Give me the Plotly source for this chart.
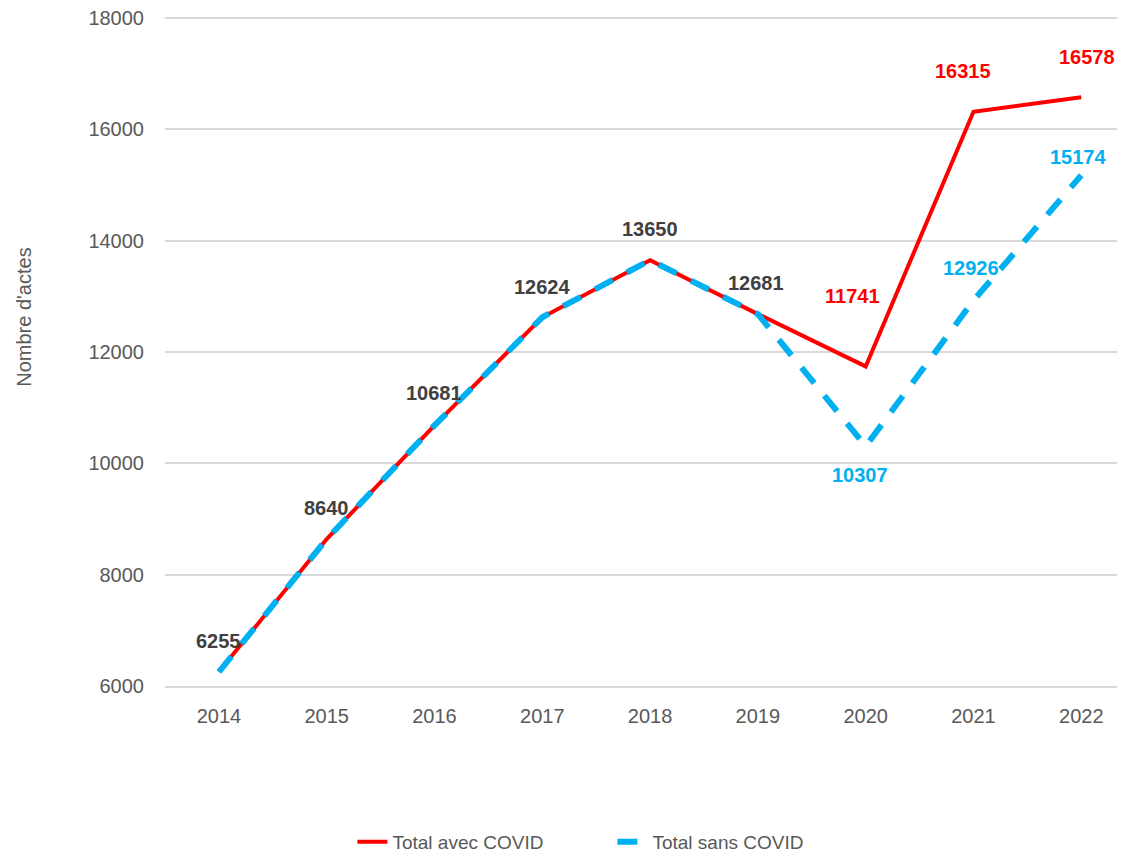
import plotly.graph_objects as go

years = ["2014", "2015", "2016", "2017", "2018", "2019", "2020", "2021", "2022"]
avec_covid = [6255, 8640, 10681, 12624, 13650, 12681, 11741, 16315, 16578]
sans_covid = [6255, 8640, 10681, 12624, 13650, 12681, 10307, 12926, 15174]
y_ticks = [6000, 8000, 10000, 12000, 14000, 16000, 18000]

RED = "#FF0000"
BLUE = "#00B0F0"
DARK = "#404040"
GREY = "#595959"
FONT = "Liberation Sans Narrow, Arial Narrow, Liberation Sans, Arial, sans-serif"

fig = go.Figure()
fig.add_trace(go.Scatter(x=years, y=avec_covid, mode="lines", name="Total avec COVID",
                         line=dict(color=RED, width=4)))
fig.add_trace(go.Scatter(x=years, y=sans_covid, mode="lines", name="Total sans COVID",
                         line=dict(color=BLUE, width=6, dash="20px,16px")))

# label offsets (pixels): shared labels, then red-only and blue-only
shared_shift = [(0, 31), (0, 31), (0, 32), (0, 30), (0, 31), (-2, 31)]
red_shift = [(-13, 70), (-10, 41), (6, 40)]
blue_shift = [(-6, -29), (-2, 32), (-3, 18)]

LBL = dict(family=FONT, size=20, weight="bold")
annotations = []
n_shared = len(shared_shift)
for i in range(n_shared):
    dx, dy = shared_shift[i]
    annotations.append(dict(x=i, y=avec_covid[i], xref="x", yref="y", text=str(avec_covid[i]),
                            showarrow=False, xshift=dx, yshift=dy,
                            font=dict(LBL, color=DARK)))
for j, i in enumerate(range(n_shared, len(years))):
    dx, dy = red_shift[j]
    annotations.append(dict(x=i, y=avec_covid[i], xref="x", yref="y", text=str(avec_covid[i]),
                            showarrow=False, xshift=dx, yshift=dy,
                            font=dict(LBL, color=RED)))
    dx, dy = blue_shift[j]
    annotations.append(dict(x=i, y=sans_covid[i], xref="x", yref="y", text=str(sans_covid[i]),
                            showarrow=False, xshift=dx, yshift=dy,
                            font=dict(LBL, color=BLUE)))

annotations.append(dict(xref="paper", yref="paper", x=-0.1457, y=0.551, text="Nombre d'actes",
                        textangle=-90, showarrow=False, xanchor="center", yanchor="middle",
                        font=dict(family=FONT, size=20, color=GREY)))

fig.update_layout(
    width=1125, height=857,
    margin=dict(l=157, r=0, t=8, b=179, autoexpand=False),
    plot_bgcolor="white", paper_bgcolor="white",
    font=dict(family=FONT, size=20, color=GREY),
    showlegend=True,
    legend=dict(orientation="h", x=0.1936, xanchor="left", y=-0.2328, yanchor="middle",
                entrywidth=215, entrywidthmode="pixels",
                font=dict(family=FONT, size=19, color=GREY)),
    annotations=annotations,
)
fig.update_xaxes(type="category", range=[-0.5, 8.48], showgrid=False, showline=True,
                 linecolor="#D9D9D9", linewidth=2, ticks="", ticklabelstandoff=11,
                 automargin=False, tickfont=dict(family=FONT, size=20, color=GREY))
fig.update_yaxes(range=[6000, 18036], tickvals=y_ticks, ticktext=[str(v) for v in y_ticks],
                 showgrid=True, gridcolor="#D9D9D9", gridwidth=2, zeroline=False,
                 showline=False, ticks="", ticklabelstandoff=20, automargin=False,
                 ticklabeloverflow="allow",
                 tickfont=dict(family=FONT, size=20, color=GREY))

fig.write_html("out.html")
